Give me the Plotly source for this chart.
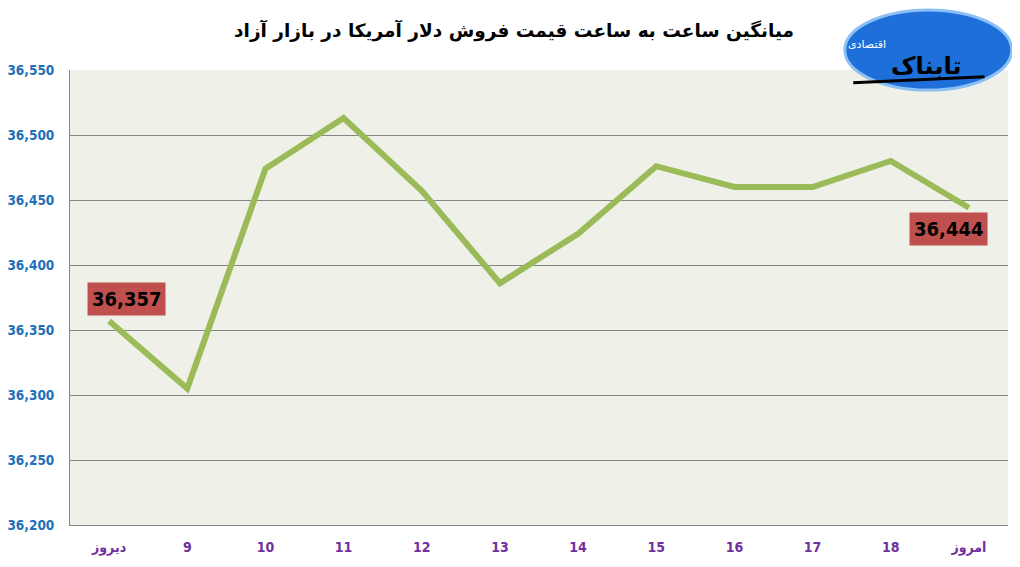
#Hourly average selling price of the US dollar in the free market

import plotly.graph_objs as go

hours = ['دیروز', '9', '10', '11', '12', '13', '14', '15', '16', '17', '18', 'امروز']
price = [36357, 36305, 36474, 36513, 36457, 36386, 36424, 36476, 36460, 36460, 36480, 36444]
y_ticks = [36200, 36250, 36300, 36350, 36400, 36450, 36500, 36550]

title_text = 'میانگین ساعت به ساعت قیمت فروش دلار آمریکا در بازار آزاد'

fig = go.Figure()
fig.add_trace(go.Scatter(x=list(range(len(hours))), y=price, mode='lines',
                         line=dict(color='#9BBB59', width=6), hoverinfo='y'))

# value boxes for first and last point
fig.add_annotation(x=0, y=price[0], xref='x', yref='y', showarrow=False,
                   text='<b>36,357</b>', font=dict(family='DejaVu Sans Condensed', size=20, color='black'),
                   bgcolor='#C0504D', borderpad=4, xshift=17, yshift=22)
fig.add_annotation(x=len(hours) - 1, y=price[-1], xref='x', yref='y', showarrow=False,
                   text='<b>36,444</b>', font=dict(family='DejaVu Sans Condensed', size=20, color='black'),
                   bgcolor='#C0504D', borderpad=4, xshift=-20, yshift=-21)

# rough version of the logo in the corner
fig.add_shape(type='circle', xref='paper', yref='paper', x0=0.826, x1=1.004, y0=0.956, y1=1.132,
              fillcolor='#1E6FD9', line=dict(color='#8CC0F5', width=3), layer='above')
fig.add_shape(type='line', xref='paper', yref='paper', x0=0.835, x1=0.975, y0=0.972, y1=0.985,
              line=dict(color='black', width=3), layer='above')
fig.add_annotation(x=0.952, y=1.045, xref='paper', yref='paper', showarrow=False,
                   text='<b>تابناک</b>', font=dict(family='DejaVu Sans', size=24, color='black'))
fig.add_annotation(x=0.872, y=1.075, xref='paper', yref='paper', showarrow=False,
                   text='اقتصادی', font=dict(family='DejaVu Sans', size=11, color='white'))

# page has an 8px body margin, so the figure is drawn 8px smaller
fig.update_layout(
    title=dict(text='<b>' + title_text + '</b>', x=0.5, xanchor='center', y=0.96, yanchor='middle',
               font=dict(family='DejaVu Sans', size=18.5, color='black')),
    width=1012, height=559,
    margin=dict(l=62, r=12, t=62, b=42),
    paper_bgcolor='white', plot_bgcolor='#EFF1E9',
    showlegend=False,
    xaxis=dict(range=[-0.5, len(hours) - 0.5], tickvals=list(range(len(hours))), ticktext=hours,
               showgrid=False, zeroline=False, showline=True, linecolor='#868686', linewidth=1,
               ticks='', ticklabelstandoff=9, automargin=False,
               tickfont=dict(family='DejaVu Sans Condensed', size=14, color='#7030A0', weight='bold')),
    yaxis=dict(range=[36200, 36550], tickvals=y_ticks, tickformat=',d',
               showgrid=True, gridcolor='#868686', gridwidth=1, zeroline=False,
               showline=True, linecolor='#868686', linewidth=1, ticks='', ticklabelstandoff=12,
               automargin=False,
               tickfont=dict(family='DejaVu Sans Condensed', size=13.5, color='#1F70B8', weight='bold')),
)

fig.write_html("out.html")
